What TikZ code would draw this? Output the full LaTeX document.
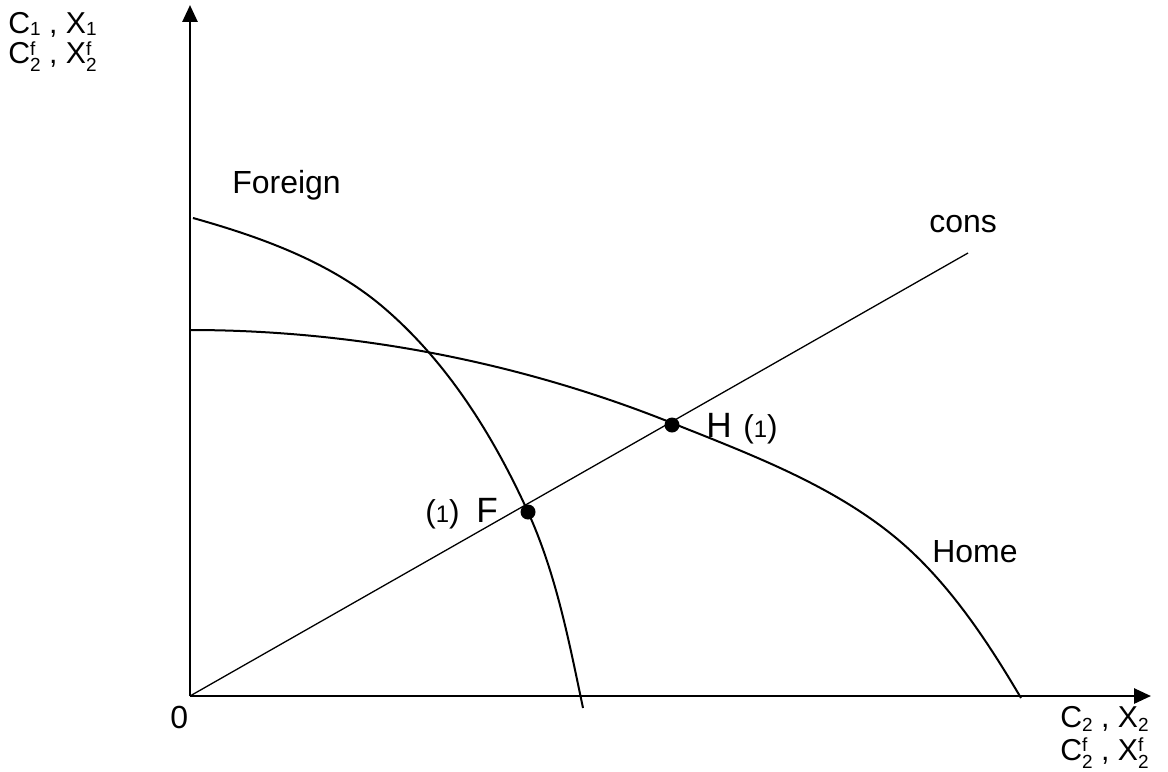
\documentclass[tikz,border=0pt]{standalone}
\usepackage{fontspec}
\setmainfont{Liberation Sans}
\usetikzlibrary{arrows.meta}
% sub #1 lowered by #2, superscript f raised by #3
\newcommand\mysubsupf[3]{\ooalign{\raisebox{-#2}{\fontsize{10.8pt}{11pt}\selectfont #1}\cr\raisebox{#3}{\fontsize{10.8pt}{11pt}\selectfont f}}}
\newcommand\mysub[2]{\raisebox{-#2}{\fontsize{10.8pt}{11pt}\selectfont #1}}
\tikzset{
  axis/.style={line width=0.055cm,-{Triangle[width=0.3cm,length=0.34cm]}},
  curve/.style={line width=0.04cm},
  consline/.style={line width=0.026cm},
  dot/.style={circle,fill=black,inner sep=0pt,minimum size=0.3cm},
  lbl/.style={inner sep=0pt,anchor=base west,font=\fontsize{18.2pt}{22pt}\selectfont},
  axlbl/.style={inner sep=0pt,anchor=base west,font=\fontsize{17.2pt}{20pt}\selectfont},
  big/.style={inner sep=0pt,anchor=base west,font=\fontsize{20pt}{24pt}\selectfont},
}
\newcommand\one{{\fontsize{18pt}{22pt}\selectfont(}{\fontsize{13.6pt}{16pt}\selectfont 1}{\fontsize{18pt}{22pt}\selectfont)}}
\begin{document}
\begin{tikzpicture}[x=0.02cm,y=-0.02cm]
\useasboundingbox (0,0) rectangle (1168,771);
\coordinate (O) at (190,696);
\coordinate (Ytip) at (190,5);
\coordinate (Xtip) at (1151,696);
\coordinate (cE) at (968,253);
% Foreign curve
\coordinate (f0) at (193,218);
\coordinate (f1) at (383,307);
\coordinate (f2) at (528,512);
\coordinate (f3) at (583,708);
\draw[curve] (f0) .. controls (260.4,236.9) and (329.7,261.7) .. (f1)
                  .. controls (447,361.4) and (493.2,435.5) .. (f2)
                  .. controls (556.1,573.9) and (569,641.5) .. (f3);
% Home curve
\coordinate (h0) at (190,330);
\coordinate (h1) at (672,423);
\coordinate (h2) at (913,553);
\coordinate (h3) at (1021,698);
\draw[curve] (h0) .. controls (354,330) and (520,362) .. (h1)
                  .. controls (756.5,456.8) and (847,490.3) .. (h2)
                  .. controls (956.5,594.3) and (990.5,646.3) .. (h3);
% cons line
\draw[consline] (O) -- (cE);
% axes
\draw[axis] (O) -- (Ytip);
\draw[axis] (O) -- (Xtip);
% dots
\node[dot] (H) at (672,425) {};
\node[dot] (F) at (528,512) {};
% labels
\node[lbl] (foreign) at (232,193) {Foreign};
\node[lbl] (cons) at (929,232) {cons};
\node[lbl] (home) at (932,562) {Home};
\node[big] (Hl) at (706,437) {H};
\node[inner sep=0pt,anchor=base west] (H1) at (743,437) {\one};
\node[inner sep=0pt,anchor=base west] (F1) at (425,522) {\one};
\node[big] (Fl) at (476,522) {F};
\node[lbl] (zero) at (170,728) {0};
\node[axlbl] (yl1) at (8,33) {C\mysub{1}{1.2pt} , X\mysub{1}{1.2pt}};
\node[axlbl] (yl2) at (8,63) {C\mysubsupf{2}{5pt}{4.5pt} , X\mysubsupf{2}{5pt}{4.5pt}};
\node[axlbl] (xl1) at (1060,727) {C\mysub{2}{2.4pt} , X\mysub{2}{2.4pt}};
\node[axlbl] (xl2) at (1060,760) {C\mysubsupf{2}{5pt}{4.8pt} , X\mysubsupf{2}{5pt}{4.8pt}};
\end{tikzpicture}
\end{document}
